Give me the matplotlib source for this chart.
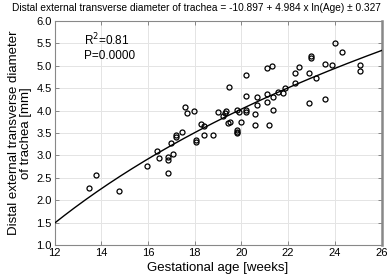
import numpy as np
import matplotlib
matplotlib.use("Agg")
import matplotlib.pyplot as plt

plt.rcParams['font.family'] = ['Liberation Sans', 'DejaVu Sans']

age = [13.48, 13.76, 14.77, 15.97, 16.37, 16.47, 16.87, 16.87, 16.87, 17.07,
       16.99, 17.19, 17.19, 17.47, 17.57, 17.67, 17.99, 18.07, 18.07, 18.28,
       18.39, 18.40, 18.79, 19.00, 19.20, 19.29, 19.34, 19.41, 19.48, 19.50,
       19.80, 19.80, 19.80, 19.80, 19.90, 20.00, 20.18, 20.18, 20.18, 20.18,
       20.58, 20.58, 20.68, 20.68, 21.08, 21.30, 21.08, 21.08, 21.18, 21.37,
       21.37, 21.58, 21.77, 21.87, 22.28, 22.48, 22.28, 22.88, 22.88, 22.99,
       22.99, 23.19, 23.59, 23.89, 24.02, 24.29, 25.09, 25.09, 23.59]
diam = [2.27, 2.56, 2.21, 2.76, 3.10, 2.94, 2.96, 2.90, 2.60, 3.03,
        3.28, 3.46, 3.42, 3.52, 4.07, 3.94, 3.99, 3.35, 3.30, 3.70,
        3.66, 3.45, 3.45, 3.97, 3.88, 3.95, 3.99, 3.72, 4.53, 3.75,
        4.01, 3.57, 3.53, 3.49, 3.96, 3.75, 4.79, 4.33, 4.01, 3.97,
        3.92, 3.67, 4.31, 4.13, 4.94, 5.00, 4.36, 4.20, 3.67, 4.31,
        4.01, 4.42, 4.39, 4.50, 4.85, 4.97, 4.62, 4.83, 4.16, 5.22,
        5.17, 4.72, 5.04, 5.02, 5.52, 5.30, 5.02, 4.89, 4.26]

intercept = -10.897
slope = 4.984
x_ticks = [12, 14, 16, 18, 20, 22, 24, 26]
y_ticks = [1.0, 1.5, 2.0, 2.5, 3.0, 3.5, 4.0, 4.5, 5.0, 5.5, 6.0]

fig = plt.figure(figsize=(3.87, 2.80), dpi=100)
ax = fig.add_axes([0.141, 0.125, 0.845, 0.80])

xf = np.linspace(12, 26, 200)
ax.plot(xf, intercept + slope * np.log(xf), color='black', lw=1.0, zorder=3)
ax.plot(age, diam, linestyle='none', marker='o', markersize=3.6,
        markerfacecolor='none', markeredgecolor='black', markeredgewidth=0.9, zorder=4)

ax.set_xlim(12, 26)
ax.set_ylim(1.0, 6.0)
ax.set_xticks(x_ticks)
ax.set_xticklabels([str(t) for t in x_ticks])
ax.set_yticks(y_ticks)
ax.set_yticklabels([f"{t:.1f}" for t in y_ticks])
ax.grid(True, color='#e4e4e4', lw=0.7)
ax.set_axisbelow(True)
ax.tick_params(direction='in', length=3, width=0.6, colors='#777777',
               labelcolor='black', labelsize=8, top=True, right=True, pad=2)
for s in ['left', 'bottom', 'top']:
    ax.spines[s].set_color('#888888')
    ax.spines[s].set_linewidth(0.8)
ax.spines['right'].set_color('#888888')
ax.spines['right'].set_linewidth(1.8)

ax.set_xlabel('Gestational age [weeks]', fontsize=9.5, labelpad=3)
ax.set_ylabel('Distal external transverse diameter\nof trachea [mm]', fontsize=9.5,
              labelpad=3, linespacing=1.0)

ax.text(0.09, 0.885, 'R$^2$=0.81\nP=0.0000', transform=ax.transAxes, fontsize=8.5,
        va='center', ha='left', linespacing=1.1)
fig.text(0.508, 0.972, 'Distal external transverse diameter of trachea = -10.897 + 4.984 x ln(Age) \u00b1 0.327',
         ha='center', va='center', fontsize=7.3)

fig.savefig('out.png', dpi=100)
